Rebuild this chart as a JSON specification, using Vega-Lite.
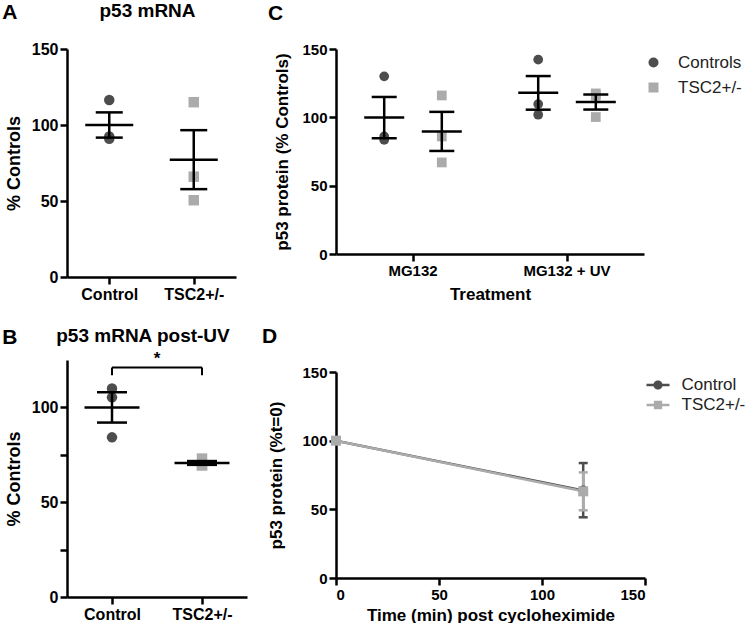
{
  "$schema": "https://vega.github.io/schema/vega-lite/v6.json",
  "background": "white",
  "padding": {"left": 2, "top": 2, "right": 0, "bottom": 0},
  "config": {
    "font": "Liberation Sans",
    "view": {"stroke": null},
    "axis": {
      "domainColor": "#000000", "domainWidth": 2.5, "tickColor": "#000000", "tickWidth": 2.5, "tickSize": 7,
      "labelFont": "Liberation Sans", "labelFontSize": 16, "labelFontWeight": "bold", "labelColor": "#000000", "labelPadding": 2,
      "titleFont": "Liberation Sans", "titleFontSize": 18, "titleFontWeight": "bold", "titleColor": "#000000", "grid": false
    },
    "title": {"font": "Liberation Sans", "fontWeight": "bold", "color": "#000000"},
    "legend": {"labelFont": "Liberation Sans", "labelFontSize": 17, "labelColor": "#222222", "labelFontWeight": "normal"}
  },
  "datasets": {
    "A_pts": [
      {"group": "Control", "value": 116.5}, {"group": "Control", "value": 91}, {"group": "Control", "value": 92.5},
      {"group": "TSC2+/-", "value": 115}, {"group": "TSC2+/-", "value": 66}, {"group": "TSC2+/-", "value": 50.5}
    ],
    "A_sum": [
      {"group": "Control", "mean": 100, "lo": 91.7, "hi": 108.3},
      {"group": "TSC2+/-", "mean": 77.2, "lo": 57.8, "hi": 96.6}
    ],
    "B_pts": [
      {"group": "Control", "value": 110}, {"group": "Control", "value": 105.3}, {"group": "Control", "value": 84.2},
      {"group": "TSC2+/-", "value": 73}, {"group": "TSC2+/-", "value": 69.5}, {"group": "TSC2+/-", "value": 69.5}
    ],
    "B_sum": [
      {"group": "Control", "mean": 100, "lo": 92, "hi": 108},
      {"group": "TSC2+/-", "mean": 70.7, "lo": 69.7, "hi": 71.7}
    ],
    "C_pts": [
      {"treatment": "MG132", "group": "Controls", "value": 130},
      {"treatment": "MG132", "group": "Controls", "value": 83.5},
      {"treatment": "MG132", "group": "Controls", "value": 86},
      {"treatment": "MG132", "group": "TSC2+/-", "value": 116},
      {"treatment": "MG132", "group": "TSC2+/-", "value": 86},
      {"treatment": "MG132", "group": "TSC2+/-", "value": 67},
      {"treatment": "MG132 + UV", "group": "Controls", "value": 142.2},
      {"treatment": "MG132 + UV", "group": "Controls", "value": 109.7},
      {"treatment": "MG132 + UV", "group": "Controls", "value": 101.9},
      {"treatment": "MG132 + UV", "group": "TSC2+/-", "value": 117.5},
      {"treatment": "MG132 + UV", "group": "TSC2+/-", "value": 115.8},
      {"treatment": "MG132 + UV", "group": "TSC2+/-", "value": 100.2}
    ],
    "C_sum": [
      {"treatment": "MG132", "group": "Controls", "mean": 99.8, "lo": 84.7, "hi": 114.9},
      {"treatment": "MG132", "group": "TSC2+/-", "mean": 89.7, "lo": 75.4, "hi": 104},
      {"treatment": "MG132 + UV", "group": "Controls", "mean": 117.9, "lo": 105.6, "hi": 130.2},
      {"treatment": "MG132 + UV", "group": "TSC2+/-", "mean": 111.2, "lo": 105.7, "hi": 116.7}
    ],
    "D_pts": [
      {"group": "Control", "time": 0, "value": 100},
      {"group": "Control", "time": 120, "value": 63.8},
      {"group": "TSC2+/-", "time": 0, "value": 100},
      {"group": "TSC2+/-", "time": 120, "value": 63.1}
    ],
    "D_err": [
      {"group": "Control", "time": 120, "lo": 44.2, "hi": 83.7},
      {"group": "TSC2+/-", "time": 120, "lo": 49.3, "hi": 76.9}
    ],
    "sig": [{"label": "*"}]
  },
  "spacing": 14,
  "resolve": {"scale": {"color": "independent", "shape": "independent"}, "legend": {"color": "independent", "shape": "independent"}},
  "hconcat": [
    {
      "spacing": 25,
      "resolve": {"scale": {"color": "independent", "shape": "independent"}, "legend": {"color": "independent", "shape": "independent"}},
      "vconcat": [
        {
          "title": {"text": "A", "anchor": "start", "frame": "bounds", "fontSize": 21, "offset": 0, "dx": -3, "dy": 21},
          "resolve": {"scale": {"color": "independent", "shape": "independent"}},
          "vconcat": [
            {
              "title": {"text": "p53 mRNA", "fontSize": 19, "anchor": "middle", "frame": "group", "dx": -4, "offset": 20},
              "width": 169, "height": 228,
              "layer": [
                {
                  "data": {"name": "A_pts"},
                  "mark": {"type": "point", "filled": true, "size": 110, "opacity": 1},
                  "encoding": {
                    "x": {"field": "group", "type": "nominal", "sort": ["Control", "TSC2+/-"], "scale": {"type": "point", "padding": 0.5}, "axis": {"title": null, "labelAngle": 0}},
                    "y": {"field": "value", "type": "quantitative", "scale": {"domain": [0, 150], "nice": false}, "axis": {"values": [0, 50, 100, 150], "title": "% Controls", "titlePadding": 8}},
                    "shape": {"field": "group", "type": "nominal", "scale": {"domain": ["Control", "TSC2+/-"], "range": ["circle", "square"]}, "legend": null},
                    "color": {"field": "group", "type": "nominal", "scale": {"domain": ["Control", "TSC2+/-"], "range": ["#4d4d4d", "#ababab"]}, "legend": null}
                  }
                },
                {
                  "data": {"name": "A_sum"},
                  "mark": {"type": "rule", "color": "#000000", "strokeWidth": 2.5},
                  "encoding": {"x": {"field": "group", "type": "nominal"}, "y": {"field": "lo", "type": "quantitative"}, "y2": {"field": "hi"}}
                },
                {
                  "data": {"name": "A_sum"},
                  "mark": {"type": "tick", "color": "#000000", "size": 48, "thickness": 2.5, "orient": "horizontal", "opacity": 1},
                  "encoding": {"x": {"field": "group", "type": "nominal"}, "y": {"field": "mean", "type": "quantitative"}}
                },
                {
                  "data": {"name": "A_sum"},
                  "mark": {"type": "tick", "color": "#000000", "size": 27, "thickness": 2.5, "orient": "horizontal", "opacity": 1},
                  "encoding": {"x": {"field": "group", "type": "nominal"}, "y": {"field": "lo", "type": "quantitative"}}
                },
                {
                  "data": {"name": "A_sum"},
                  "mark": {"type": "tick", "color": "#000000", "size": 27, "thickness": 2.5, "orient": "horizontal", "opacity": 1},
                  "encoding": {"x": {"field": "group", "type": "nominal"}, "y": {"field": "hi", "type": "quantitative"}}
                }
              ]
            }
          ]
        },
        {
          "title": {"text": "B", "anchor": "start", "frame": "bounds", "fontSize": 21, "offset": 0, "dx": -3, "dy": 21},
          "resolve": {"scale": {"color": "independent", "shape": "independent"}},
          "vconcat": [
            {
              "title": {"text": "p53 mRNA post-UV", "fontSize": 19, "anchor": "middle", "frame": "group", "dx": -14, "offset": 4},
              "width": 180, "height": 237,
              "layer": [
                {
                  "data": {"name": "B_pts"},
                  "mark": {"type": "point", "filled": true, "size": 110, "opacity": 1},
                  "encoding": {
                    "x": {"field": "group", "type": "nominal", "sort": ["Control", "TSC2+/-"], "scale": {"type": "point", "padding": 0.5}, "axis": {"title": null, "labelAngle": 0}},
                    "y": {"field": "value", "type": "quantitative", "scale": {"domain": [0, 125], "nice": false}, "axis": {"values": [0, 25, 50, 75, 100], "labelExpr": "datum.value % 50 == 0 ? datum.label : ''", "title": "% Controls", "titlePadding": 8}},
                    "shape": {"field": "group", "type": "nominal", "scale": {"domain": ["Control", "TSC2+/-"], "range": ["circle", "square"]}, "legend": null},
                    "color": {"field": "group", "type": "nominal", "scale": {"domain": ["Control", "TSC2+/-"], "range": ["#4d4d4d", "#ababab"]}, "legend": null}
                  }
                },
                {
                  "data": {"name": "B_sum"},
                  "mark": {"type": "rule", "color": "#000000", "strokeWidth": 2.5},
                  "encoding": {"x": {"field": "group", "type": "nominal"}, "y": {"field": "lo", "type": "quantitative"}, "y2": {"field": "hi"}}
                },
                {
                  "data": {"name": "B_sum"},
                  "mark": {"type": "tick", "color": "#000000", "size": 55, "thickness": 2.5, "orient": "horizontal", "opacity": 1},
                  "encoding": {"x": {"field": "group", "type": "nominal"}, "y": {"field": "mean", "type": "quantitative"}}
                },
                {
                  "data": {"name": "B_sum"},
                  "mark": {"type": "tick", "color": "#000000", "size": 30, "thickness": 2.5, "orient": "horizontal", "opacity": 1},
                  "encoding": {"x": {"field": "group", "type": "nominal"}, "y": {"field": "lo", "type": "quantitative"}}
                },
                {
                  "data": {"name": "B_sum"},
                  "mark": {"type": "tick", "color": "#000000", "size": 30, "thickness": 2.5, "orient": "horizontal", "opacity": 1},
                  "encoding": {"x": {"field": "group", "type": "nominal"}, "y": {"field": "hi", "type": "quantitative"}}
                },
                {
                  "data": {"name": "sig"},
                  "mark": {"type": "rule", "color": "#000000", "strokeWidth": 2},
                  "encoding": {"x": {"datum": "Control"}, "x2": {"datum": "TSC2+/-"}, "y": {"datum": 121}}
                },
                {
                  "data": {"name": "sig"},
                  "mark": {"type": "rule", "color": "#000000", "strokeWidth": 2},
                  "encoding": {"x": {"datum": "Control"}, "y": {"datum": 121}, "y2": {"datum": 117}}
                },
                {
                  "data": {"name": "sig"},
                  "mark": {"type": "rule", "color": "#000000", "strokeWidth": 2},
                  "encoding": {"x": {"datum": "TSC2+/-"}, "y": {"datum": 121}, "y2": {"datum": 117}}
                },
                {
                  "data": {"name": "sig"},
                  "mark": {"type": "text", "color": "#000000", "fontSize": 17, "fontWeight": "bold", "dx": 45, "baseline": "middle", "align": "center"},
                  "encoding": {"x": {"datum": "Control"}, "y": {"datum": 125.5}, "text": {"field": "label"}}
                }
              ]
            }
          ]
        }
      ]
    },
    {
      "spacing": 24,
      "resolve": {"scale": {"color": "independent", "shape": "independent"}, "legend": {"color": "independent", "shape": "independent"}},
      "vconcat": [
        {
          "title": {"text": "C", "anchor": "start", "frame": "bounds", "fontSize": 21, "offset": 18, "dx": -6},
          "width": 308, "height": 205,
          "layer": [
            {
              "data": {"name": "C_pts"},
              "mark": {"type": "point", "filled": true, "size": 95, "opacity": 1},
              "encoding": {
                "x": {"field": "treatment", "type": "nominal", "sort": ["MG132", "MG132 + UV"], "scale": {"paddingInner": 0, "paddingOuter": 0}, "axis": {"title": "Treatment", "labelAngle": 0, "labelFontSize": 15, "titleFontSize": 17, "titlePadding": 8}},
                "xOffset": {"field": "group", "type": "nominal", "sort": ["Controls", "TSC2+/-"], "scale": {"paddingInner": 0, "paddingOuter": 0.337}},
                "y": {"field": "value", "type": "quantitative", "scale": {"domain": [0, 150], "nice": false}, "axis": {"values": [0, 50, 100, 150], "title": "p53 protein (% Controls)", "labelFontSize": 15, "titleFontSize": 17, "titlePadding": 10}},
                "color": {"field": "group", "type": "nominal", "scale": {"domain": ["Controls", "TSC2+/-"], "range": ["#4d4d4d", "#ababab"]}, "legend": {"title": null, "orient": "right", "offset": -4, "padding": 5, "symbolSize": 100, "labelOffset": 16, "rowPadding": 7}},
                "shape": {"field": "group", "type": "nominal", "scale": {"domain": ["Controls", "TSC2+/-"], "range": ["circle", "square"]}, "legend": {"title": null, "orient": "right", "offset": -4, "padding": 5, "symbolSize": 100, "labelOffset": 16, "rowPadding": 7}}
              }
            },
            {
              "data": {"name": "C_sum"},
              "mark": {"type": "rule", "color": "#000000", "strokeWidth": 2.5},
              "encoding": {
                "x": {"field": "treatment", "type": "nominal", "sort": ["MG132", "MG132 + UV"]},
                "xOffset": {"field": "group", "type": "nominal", "sort": ["Controls", "TSC2+/-"]},
                "y": {"field": "lo", "type": "quantitative"}, "y2": {"field": "hi"}
              }
            },
            {
              "data": {"name": "C_sum"},
              "mark": {"type": "tick", "color": "#000000", "size": 40, "thickness": 2.5, "orient": "horizontal", "opacity": 1},
              "encoding": {
                "x": {"field": "treatment", "type": "nominal", "sort": ["MG132", "MG132 + UV"]},
                "xOffset": {"field": "group", "type": "nominal", "sort": ["Controls", "TSC2+/-"]},
                "y": {"field": "mean", "type": "quantitative"}
              }
            },
            {
              "data": {"name": "C_sum"},
              "mark": {"type": "tick", "color": "#000000", "size": 25, "thickness": 2.5, "orient": "horizontal", "opacity": 1},
              "encoding": {
                "x": {"field": "treatment", "type": "nominal", "sort": ["MG132", "MG132 + UV"]},
                "xOffset": {"field": "group", "type": "nominal", "sort": ["Controls", "TSC2+/-"]},
                "y": {"field": "lo", "type": "quantitative"}
              }
            },
            {
              "data": {"name": "C_sum"},
              "mark": {"type": "tick", "color": "#000000", "size": 25, "thickness": 2.5, "orient": "horizontal", "opacity": 1},
              "encoding": {
                "x": {"field": "treatment", "type": "nominal", "sort": ["MG132", "MG132 + UV"]},
                "xOffset": {"field": "group", "type": "nominal", "sort": ["Controls", "TSC2+/-"]},
                "y": {"field": "hi", "type": "quantitative"}
              }
            }
          ]
        },
        {
          "title": {"text": "D", "anchor": "start", "frame": "bounds", "fontSize": 21, "offset": 18, "dx": -6},
          "width": 309, "height": 206,
          "resolve": {"scale": {"color": "independent", "shape": "independent"}},
          "layer": [
            {
              "data": {"name": "D_pts"},
              "mark": {"type": "line", "strokeWidth": 2.5},
              "encoding": {
                "x": {"field": "time", "type": "quantitative", "scale": {"domain": [0, 150], "nice": false}, "axis": {"values": [0, 50, 100, 150], "title": "Time (min) post cycloheximide", "labelFontSize": 15, "titleFontSize": 17, "titlePadding": 5}},
                "y": {"field": "value", "type": "quantitative", "scale": {"domain": [0, 150], "nice": false}, "axis": {"values": [0, 50, 100, 150], "title": "p53 protein (%t=0)", "labelFontSize": 15, "titleFontSize": 17, "titlePadding": 16}},
                "color": {"field": "group", "type": "nominal", "scale": {"domain": ["Control", "TSC2+/-"], "range": ["#4d4d4d", "#ababab"]}, "legend": null}
              }
            },
            {
              "data": {"name": "D_err"},
              "mark": {"type": "rule", "strokeWidth": 2.5},
              "encoding": {
                "x": {"field": "time", "type": "quantitative"},
                "y": {"field": "lo", "type": "quantitative"}, "y2": {"field": "hi"},
                "color": {"field": "group", "type": "nominal", "scale": {"domain": ["Control", "TSC2+/-"], "range": ["#4d4d4d", "#ababab"]}, "legend": null}
              }
            },
            {
              "data": {"name": "D_err"},
              "mark": {"type": "tick", "size": 9, "thickness": 2.5, "orient": "horizontal", "opacity": 1},
              "encoding": {
                "x": {"field": "time", "type": "quantitative"},
                "y": {"field": "lo", "type": "quantitative"},
                "color": {"field": "group", "type": "nominal", "scale": {"domain": ["Control", "TSC2+/-"], "range": ["#4d4d4d", "#ababab"]}, "legend": null}
              }
            },
            {
              "data": {"name": "D_err"},
              "mark": {"type": "tick", "size": 9, "thickness": 2.5, "orient": "horizontal", "opacity": 1},
              "encoding": {
                "x": {"field": "time", "type": "quantitative"},
                "y": {"field": "hi", "type": "quantitative"},
                "color": {"field": "group", "type": "nominal", "scale": {"domain": ["Control", "TSC2+/-"], "range": ["#4d4d4d", "#ababab"]}, "legend": null}
              }
            },
            {
              "data": {"name": "D_pts"},
              "transform": [{"filter": "datum.group == 'Control'"}],
              "mark": {"type": "point", "filled": true, "shape": "circle", "size": 95, "color": "#4d4d4d", "opacity": 1},
              "encoding": {"x": {"field": "time", "type": "quantitative"}, "y": {"field": "value", "type": "quantitative"}}
            },
            {
              "data": {"name": "D_pts"},
              "transform": [{"filter": "datum.group == 'TSC2+/-'"}],
              "mark": {"type": "point", "filled": true, "shape": "square", "size": 100, "color": "#ababab", "opacity": 1},
              "encoding": {"x": {"field": "time", "type": "quantitative"}, "y": {"field": "value", "type": "quantitative"}}
            },
            {
              "data": {"name": "D_pts"},
              "mark": {"type": "point", "filled": true, "opacity": 0},
              "encoding": {
                "x": {"field": "time", "type": "quantitative"},
                "y": {"field": "value", "type": "quantitative"},
                "color": {"field": "group", "type": "nominal", "scale": {"domain": ["Control", "TSC2+/-"], "range": ["#4d4d4d", "#ababab"]}, "legend": {"title": null, "orient": "right", "offset": 0, "padding": 1.5, "symbolSize": 529, "symbolOpacity": 1, "symbolStrokeWidth": 0, "labelOffset": 12, "rowPadding": 0}},
                "shape": {"field": "group", "type": "nominal", "scale": {"domain": ["Control", "TSC2+/-"], "range": ["M-1,-0.11H1V0.11H-1Z M0.4,0 A0.4,0.4 0 1,1 -0.4,0 A0.4,0.4 0 1,1 0.4,0 Z", "M-1,-0.11H1V0.11H-1Z M-0.36,-0.36H0.36V0.36H-0.36Z"]}, "legend": {"title": null, "orient": "right", "offset": 0, "padding": 1.5, "symbolSize": 529, "symbolOpacity": 1, "symbolStrokeWidth": 0, "labelOffset": 12, "rowPadding": 0}}
              }
            }
          ]
        }
      ]
    }
  ]
}
